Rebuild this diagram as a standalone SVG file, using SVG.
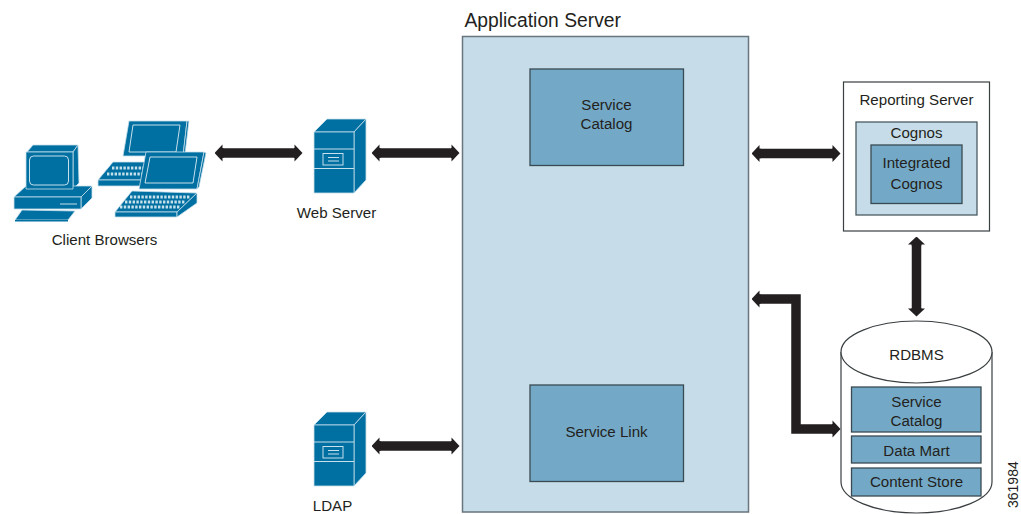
<svg xmlns="http://www.w3.org/2000/svg" width="1021" height="514" viewBox="0 0 1021 514">
<style>
text{font-family:"Liberation Sans",Arial,sans-serif;font-size:15.100px;fill:#231f20}
.m{text-anchor:middle}
.ic{fill:#006fa1;stroke:#c6e0ec;stroke-width:.8;stroke-linejoin:round}
.il{fill:none;stroke:#c6e0ec;stroke-width:1}
.kb{fill:none;stroke:#c6e0ec;stroke-width:3.2;stroke-dasharray:2.4 1.4}
.box{fill:#73a9c7;stroke:#3a4a52;stroke-width:1.3}
.lt{fill:#c6dce8}
.con{fill:none;stroke:#231f20;stroke-width:9.5;marker-start:url(#h);marker-end:url(#h)}
</style>
<defs>
<marker id="h" viewBox="0 0 9 18" refX="1" refY="9" markerWidth="9" markerHeight="18" markerUnits="userSpaceOnUse" orient="auto-start-reverse">
<polygon points="9,9 1,0.5 1,4 0,4 0,14 1,14 1,17.500 9,9" fill="#231f20"/>
</marker>
<g id="srv">
<polygon class="ic" points="314,132 327,119 366,119 354,132"/>
<polygon class="ic" points="354,132 366,119 366,180 354,193"/>
<rect class="ic" x="314" y="132" width="40" height="61"/>
<path class="il" d="M314 149H354M314 168.500H354"/>
<rect class="il" x="323" y="153.500" width="20" height="11.500"/>
<path class="il" d="M328 157.500H339M328 161H339"/>
</g>
</defs>
<g id="connectors">
<path class="con" d="M222.500 153H294.500"/>
<path class="con" d="M379.500 153H451.500"/>
<path class="con" d="M379.500 446H451.500"/>
<path class="con" d="M759.500 153.500H832.500"/>
<path class="con" d="M916.500 244.500V308.500"/>
<path class="con" d="M759.500 299H796V429H832.500"/>
</g>
<g id="client-browsers">
<polygon class="ic" points="98,180 113,162 150,162 150,180"/>
<polygon class="ic" points="98,180 145,180 145,186 98,186"/>
<path class="kb" d="M112 168H148M107 174H146"/>
<polygon class="ic" points="129,121 187,121 183,156 123,156"/>
<polygon class="ic" points="187,121 189,121 185,154 183,156"/>
<polygon class="il" points="133,125 180,125 176,152 129,152"/>
<polygon class="ic" points="115,212 132,191 197,193 177,212"/>
<polygon class="ic" points="115,212 177,212 177,217 115,217"/>
<polygon class="ic" points="177,212 197,193 197,203 177,217"/>
<path class="kb" d="M130 197H190M125 202H185M120 207H180"/>
<polygon class="ic" points="146,152 204,152 197,189 139,189"/>
<polygon class="ic" points="204,152 206,153 199,187 197,189"/>
<polygon class="il" points="150,157 197,157 193,183 145,183" style="fill:none"/>
<polygon class="ic" points="27,152 33,145 78,145 73,152"/>
<polygon class="ic" points="73,152 78,145 79,183 73,189"/>
<polygon class="ic" points="14,197 26,186 92,186 81,197"/>
<polygon class="ic" points="81,197 92,186 92,198 81,209"/>
<rect class="ic" x="14" y="197" width="67" height="12"/>
<rect class="ic" x="26" y="152" width="47" height="37"/>
<rect class="il" x="29.500" y="156" width="39" height="29" rx="4"/>
<path class="il" d="M60 204H77"/>
<polygon class="ic" points="22,210 75,211 68,220 15,220"/>
<rect x="15" y="220" width="53" height="1.500" fill="#006fa1"/>
<text class="m" x="104.500" y="245">Client Browsers</text>
</g>
<g id="web-server">
<use href="#srv"/>
<text class="m" x="336.500" y="218">Web Server</text>
</g>
<g id="ldap">
<use href="#srv" y="293"/>
<text class="m" x="332.500" y="511">LDAP</text>
</g>
<g id="application-server">
<rect class="lt" x="462.500" y="36.500" width="286" height="475.500" stroke="#69767d" stroke-width="1.500"/>
<text x="464.500" y="27" style="font-size:19.300px">Application Server</text>
</g>
<g id="service-catalog">
<rect class="box" x="530" y="69" width="153.500" height="96.500"/>
<text class="m" x="606.500" y="110">Service</text>
<text class="m" x="606.500" y="129">Catalog</text>
</g>
<g id="service-link">
<rect class="box" x="530" y="385" width="153.500" height="96.500"/>
<text class="m" x="606.500" y="436.500">Service Link</text>
</g>
<g id="reporting-server">
<rect x="843.500" y="82" width="146" height="149" fill="#fff" stroke="#3a3f42" stroke-width="1.200"/>
<text class="m" x="916.500" y="105">Reporting Server</text>
<rect class="lt" x="856" y="122" width="121" height="93" stroke="#4a5a62" stroke-width="1.300"/>
<text class="m" x="916.500" y="138">Cognos</text>
<rect class="box" x="871" y="145" width="91" height="58.500" stroke="#1f2a30"/>
<text class="m" x="916.500" y="168">Integrated</text>
<text class="m" x="916.500" y="189">Cognos</text>
</g>
<g id="rdbms">
<path d="M841 352V482C841 499 875 513 916.500 513S992 499 992 482V352" fill="#fff" stroke="#3a3f42" stroke-width="1.200"/>
<ellipse cx="916.500" cy="352" rx="75.500" ry="31" fill="#fff" stroke="#3a3f42" stroke-width="1.200"/>
<text class="m" x="916.500" y="360">RDBMS</text>
<rect class="box" x="851.500" y="387" width="129.500" height="45"/>
<text class="m" x="916.500" y="407">Service</text>
<text class="m" x="916.500" y="426">Catalog</text>
<rect class="box" x="851.500" y="436" width="129.500" height="27" stroke="#1f2a30"/>
<text class="m" x="916.500" y="456">Data Mart</text>
<rect class="box" x="851.500" y="468" width="129.500" height="28"/>
<text class="m" x="916.500" y="487">Content Store</text>
</g>
<text x="1018" y="508" transform="rotate(-90 1018 508)" style="font-size:14px">361984</text>
</svg>
